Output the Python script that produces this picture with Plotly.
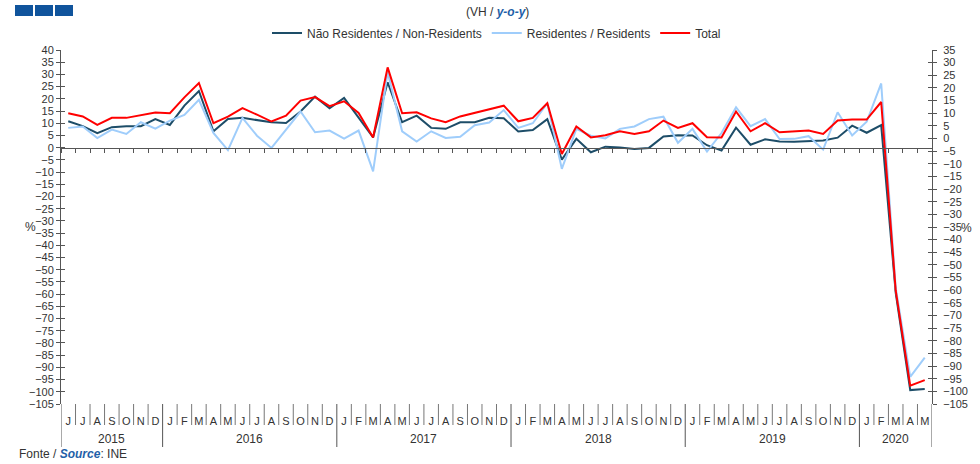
import plotly.graph_objects as go

# Monthly y-o-y change, Jun 2015 - May 2020
months_2015 = ["J", "J", "A", "S", "O", "N", "D"]
months_full = ["J", "F", "M", "A", "M", "J", "J", "A", "S", "O", "N", "D"]
months_2020 = ["J", "F", "M", "A", "M"]
years = ["2015", "2016", "2017", "2018", "2019", "2020"]
year_months = [months_2015, months_full, months_full, months_full, months_full, months_2020]

non_residents = [10.8, 8.8, 5.9, 8.4, 8.8, 8.8, 11.7, 9.3, 17.2, 23.2, 6.7, 11.7, 12.2, 11.3, 10.4,
                 10.1, 14.8, 20.9, 16.1, 20.4, 12.2, 4.2, 26.8, 10.4, 13.1, 8.1, 7.7, 10.4, 10.4, 12.2, 12.0,
                 6.6, 7.2, 11.7, -4.9, 3.6, -1.9, 0.4, 0.1, -0.5, -0.1, 4.6, 5.1, 5.0, 1.0,
                 -1.2, 8.2, 1.2, 3.4, 2.5, 2.4, 2.8, 2.9, 4.1, 9.0, 6.1, 9.2, -59.5, -99.3, -98.9]
residents = [8.1, 8.7, 3.9, 7.4, 5.6, 10.4, 7.8, 11.1, 13.4, 19.6, 6.0, -1.0, 12.2, 4.9, -0.1,
             7.5, 14.8, 6.3, 7.0, 3.7, 7.0, -9.7, 30.9, 6.7, 2.5, 6.7, 4.0, 4.5, 9.2, 10.3, 15.4,
             8.1, 10.0, 18.2, -8.7, 7.7, 4.9, 3.8, 7.7, 8.7, 11.7, 12.7, 2.0, 7.7, -1.6,
             6.0, 16.5, 8.8, 11.7, 3.5, 3.6, 4.7, -0.8, 14.5, 5.0, 10.6, 26.3, -57.5, -93.9, -86.0]
total = [14.1, 12.8, 9.3, 12.2, 12.2, 13.4, 14.4, 14.1, 20.6, 26.5, 10.0, 12.7, 16.2, 13.5, 10.7,
         13.1, 19.3, 20.7, 17.0, 19.0, 14.2, 4.2, 32.9, 14.1, 14.5, 12.0, 10.4, 12.8, 14.2, 15.6, 17.2,
         10.8, 12.2, 18.2, -2.6, 8.7, 4.2, 5.1, 6.7, 5.6, 6.7, 11.1, 8.1, 10.0, 4.3,
         4.2, 14.8, 6.7, 10.0, 6.3, 6.6, 7.0, 5.6, 11.1, 11.5, 11.5, 18.7, -58.5, -97.5, -95.2]

month_labels = [m for ms in year_months for m in ms]
x = list(range(len(month_labels)))
n = len(x)

# plot area in pixels
W, H = 980, 464
L, R, T, B = 61, 48, 50, 60
PW, PH = W - L - R, H - T - B


def px_x(p):
    return (p - L) / PW


def px_y(p):
    return (H - B - p) / PH


TXT = "#333333"
AX = "#555555"
FONT = "Arial"

fig = go.Figure()
fig.add_trace(go.Scatter(x=x, y=non_residents, mode="lines", name="Não Residentes / Non-Residents",
                         line=dict(color="#1d4d68", width=2)))
fig.add_trace(go.Scatter(x=x, y=residents, mode="lines", name="Residentes / Residents",
                         line=dict(color="#9fcdfb", width=2)))
fig.add_trace(go.Scatter(x=x, y=total, mode="lines", name="Total",
                         line=dict(color="#ff0000", width=2)))

# empty helper traces so the extra axes get drawn
for xa, ya in [("x2", "y"), ("x", "y2"), ("x", "y3"), ("x", "y4")]:
    fig.add_trace(go.Scatter(x=[0], y=[0], xaxis=xa, yaxis=ya, mode="none",
                             showlegend=False, hoverinfo="skip"))

bounds = [i - 0.5 for i in range(n + 1)]
year_bounds = [-0.5]
for ms in year_months:
    year_bounds.append(year_bounds[-1] + len(ms))
year_centers = [(a + b) / 2 for a, b in zip(year_bounds[:-1], year_bounds[1:])]

shapes = []
for b in bounds:
    if b in year_bounds:
        continue
    shapes.append(dict(type="line", xref="x", yref="paper", x0=b, x1=b, y0=0, y1=px_y(425),
                       line=dict(color="#777777", width=1)))
for b in year_bounds:
    shapes.append(dict(type="line", xref="x", yref="paper", x0=b, x1=b, y0=0, y1=px_y(447),
                       line=dict(color=AX, width=1)))
# logo squares
for x0 in [15, 35, 55]:
    shapes.append(dict(type="rect", xref="paper", yref="paper", x0=px_x(x0), x1=px_x(x0 + 18),
                       y0=px_y(16), y1=px_y(5), line=dict(width=0), fillcolor="#10549c"))

annotations = []
for yr, c in zip(years, year_centers):
    annotations.append(dict(x=c, y=px_y(439), xref="x", yref="paper", text=yr, showarrow=False,
                            yanchor="middle", font=dict(size=12, color=TXT, family=FONT)))
annotations += [
    dict(x=px_x(497), y=px_y(12), xref="paper", yref="paper", showarrow=False, yanchor="middle",
         text="(VH / <span style='color:#1f5fa8'><b><i>y-o-y</i></b></span>)",
         font=dict(size=12, color=TXT, family=FONT)),
    dict(x=px_x(17), y=px_y(454), xref="paper", yref="paper", showarrow=False, xanchor="left",
         yanchor="middle",
         text="Fonte / <span style='color:#1f5fa8'><b><i>Source</i></b></span>: INE",
         font=dict(size=12, color=TXT, family=FONT)),
    dict(x=px_x(23), y=px_y(227), xref="paper", yref="paper", showarrow=False, text="%",
         yanchor="middle", font=dict(size=12, color=TXT, family=FONT)),
    dict(x=px_x(974), y=px_y(228), xref="paper", yref="paper", showarrow=False, text="%",
         yanchor="middle", font=dict(size=12, color=TXT, family=FONT)),
]

tick_font = dict(size=11, color=TXT, family=FONT)
yaxis_common = dict(dtick=5, tick0=0, showgrid=False, zeroline=False, ticklen=4,
                    tickcolor=AX, tickfont=tick_font, automargin=False)

fig.update_layout(
    width=W, height=H,
    margin=dict(l=L, r=R, t=T, b=B),
    plot_bgcolor="white", paper_bgcolor="white",
    font=dict(family=FONT, color=TXT),
    showlegend=True,
    legend=dict(orientation="h", x=0.5, xanchor="center", y=px_y(33), yanchor="middle",
                font=dict(size=12, color=TXT, family=FONT), itemwidth=30,
                bgcolor="rgba(0,0,0,0)"),
    xaxis=dict(range=[-0.5, n - 0.5], anchor="free", position=105 / 145, showline=True,
               linecolor=AX, linewidth=1, ticks="outside", tickvals=bounds, ticklen=4,
               tickcolor=AX, showticklabels=False, showgrid=False, zeroline=False,
               automargin=False),
    xaxis2=dict(range=[-0.5, n - 0.5], overlaying="x", anchor="free", position=0,
                tickmode="array", tickvals=x, ticktext=month_labels, ticks="outside",
                ticklen=7, tickcolor="rgba(0,0,0,0)", showline=False, showgrid=False,
                zeroline=False, tickfont=tick_font, automargin=False),
    yaxis=dict(range=[-105, 40], ticks="outside", showline=True, linecolor=AX, **yaxis_common),
    yaxis2=dict(range=[-105, 35], overlaying="y", side="right", anchor="x", ticks="outside",
                showline=True, linecolor=AX, ticklabelstandoff=4, **yaxis_common),
    yaxis3=dict(range=[-105, 40], overlaying="y", ticks="inside", showline=False,
                showticklabels=False, **yaxis_common),
    yaxis4=dict(range=[-105, 35], overlaying="y", side="right", anchor="x", ticks="inside",
                showline=False, showticklabels=False, **yaxis_common),
    shapes=shapes,
    annotations=annotations,
)

fig.write_html("out.html", config={"displayModeBar": False},
               post_script="document.body.style.margin='0px';")
